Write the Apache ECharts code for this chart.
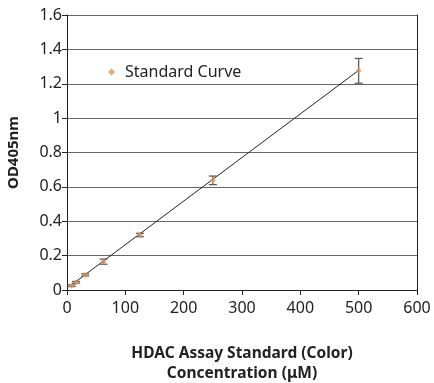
<!DOCTYPE html>
<html>
<head>
<meta charset="utf-8">
<script src="https://cdn.jsdelivr.net/npm/echarts@6/dist/echarts.min.js"></script>
<style>html,body{margin:0;padding:0;background:#fff;}#c{width:434px;height:383px;}</style>
</head>
<body>
<div id="c"></div>
<script>
const concentrations = [7.8, 15.6, 31.25, 62.5, 125, 250, 500];
const odValues = [0.025, 0.045, 0.088, 0.165, 0.32, 0.638, 1.275];
const odErrors = [0.005, 0.005, 0.006, 0.015, 0.01, 0.025, 0.072];
const trendX = [7.8, 500];
const trendY = [0.03, 1.278];
const xTicks = [0, 100, 200, 300, 400, 500, 600];
const yTicks = [0, 0.2, 0.4, 0.6, 0.8, 1, 1.2, 1.4, 1.6];

const FONT = '"Noto Sans", sans-serif';
const chart = echarts.init(document.getElementById('c'), null, {renderer: 'canvas'});
const pts = concentrations.map((x, i) => [x, odValues[i]]);
const errData = concentrations.map((x, i) => [x, odValues[i] - odErrors[i], odValues[i] + odErrors[i]]);
const trend = trendX.map((x, i) => [x, trendY[i]]);

chart.setOption({
  animation: false,
  grid: {left: 67, right: 17, top: 15, bottom: 93, containLabel: false, outerBoundsMode: 'none'},
  legend: {
    data: [{name: 'Standard Curve', icon: 'diamond'}],
    left: 103, top: 59, itemWidth: 7, itemHeight: 7, itemGap: 10,
    textStyle: {fontFamily: FONT, fontSize: 16, color: '#222', padding: [0, 0, 0, 5]}
  },
  xAxis: {
    type: 'value', min: 0, max: 600, interval: 100,
    axisLine: {show: true, lineStyle: {color: '#222', width: 1}},
    axisTick: {show: true, length: 5, lineStyle: {color: '#222'}},
    splitLine: {show: false},
    axisLabel: {fontFamily: FONT, fontSize: 16, color: '#222', margin: 10,
      formatter: v => xTicks.includes(v) ? String(v) : ''},
    name: 'HDAC Assay Standard (Color)\nConcentration (μM)',
    nameLocation: 'middle', nameGap: 54,
    nameTextStyle: {fontFamily: FONT, fontSize: 15.5, fontWeight: 'bold', color: '#222', lineHeight: 20}
  },
  yAxis: [{
    type: 'value', min: 0, max: 1.6, interval: 0.2,
    axisLine: {show: true, lineStyle: {color: '#222', width: 1}},
    axisTick: {show: true, length: 5, lineStyle: {color: '#222'}},
    splitLine: {show: true, lineStyle: {color: '#666', width: 1}},
    axisLabel: {fontFamily: FONT, fontSize: 16, color: '#222', margin: 5,
      formatter: v => String(yTicks.find(t => Math.abs(t - v) < 1e-6) ?? '')},
    name: 'OD405nm', nameLocation: 'middle', nameGap: 46, nameRotate: 90,
    nameTextStyle: {fontFamily: FONT, fontSize: 15, fontWeight: 'bold', color: '#222'}
  }, {
    type: 'value', min: 0, max: 1.6, interval: 0.2, position: 'right',
    axisLine: {show: true, lineStyle: {color: '#222', width: 1}},
    axisTick: {show: false}, axisLabel: {show: false}, splitLine: {show: false}
  }],
  series: [
    {
      name: 'Trend', type: 'line', data: trend, showSymbol: false, symbol: 'none',
      lineStyle: {color: '#222', width: 1}, z: 2, silent: true
    },
    {
      name: 'Error', type: 'custom', data: errData, z: 3,
      renderItem: (params, api) => {
        const x = api.value(0);
        const lo = api.coord([x, api.value(1)]);
        const hi = api.coord([x, api.value(2)]);
        const w = 4;
        const st = {stroke: '#555', lineWidth: 1.2};
        return {type: 'group', children: [
          {type: 'line', shape: {x1: lo[0], y1: lo[1], x2: hi[0], y2: hi[1]}, style: st},
          {type: 'line', shape: {x1: lo[0] - w, y1: lo[1], x2: lo[0] + w, y2: lo[1]}, style: st},
          {type: 'line', shape: {x1: hi[0] - w, y1: hi[1], x2: hi[0] + w, y2: hi[1]}, style: st}
        ]};
      }
    },
    {
      name: 'Standard Curve', type: 'scatter', data: pts, symbol: 'diamond', symbolSize: 6,
      itemStyle: {color: '#e0955a'}, z: 4
    }
  ]
});
</script>
</body>
</html>
